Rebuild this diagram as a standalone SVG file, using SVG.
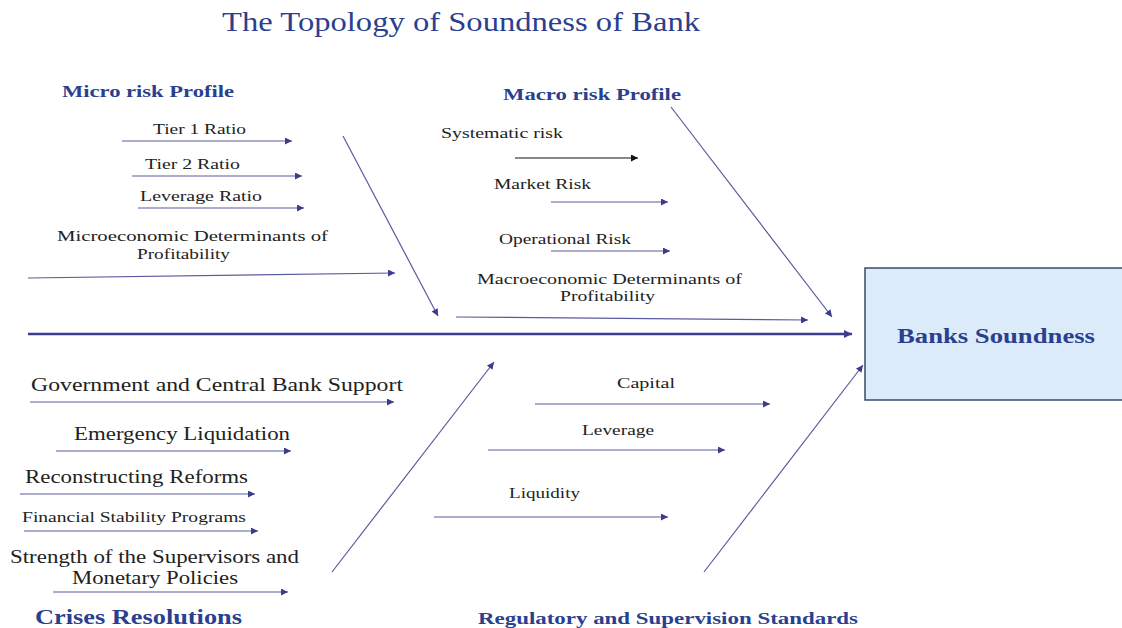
<svg xmlns="http://www.w3.org/2000/svg" width="1122" height="628" viewBox="0 0 1122 628">
<defs>
<marker id="ah" viewBox="0 0 10 10" refX="10" refY="5" markerWidth="12" markerHeight="7" markerUnits="userSpaceOnUse" orient="auto">
<path d="M0,0 L10,5 L0,10 Z" fill="#3c3c8c"/>
</marker>
<marker id="ahb" viewBox="0 0 10 10" refX="10" refY="5" markerWidth="10" markerHeight="7" markerUnits="userSpaceOnUse" orient="auto">
<path d="M0,0 L10,5 L0,10 Z" fill="#111"/>
</marker>
<marker id="ahl" viewBox="0 0 10 10" refX="10" refY="5" markerWidth="13" markerHeight="8" markerUnits="userSpaceOnUse" orient="auto">
<path d="M0,0 L10,5 L0,10 Z" fill="#3c3c8c"/>
</marker>
</defs>
<style>
text{font-family:"Liberation Serif","DejaVu Serif","Times New Roman",serif;}
.t{fill:#222;}
.h{fill:#2b3f8f;font-weight:bold;}
.a{stroke:#5a5aa0;stroke-width:1.2;fill:none;marker-end:url(#ah);}
.ab{stroke:#111;stroke-width:1.2;fill:none;marker-end:url(#ahb);}
.sp{stroke:#3c3c8c;stroke-width:2.5;fill:none;marker-end:url(#ahl);}
</style>
<rect width="1122" height="628" fill="#fff"/>
<text font-family="Liberation Serif, serif" x="222" y="31" font-size="27" textLength="478" lengthAdjust="spacingAndGlyphs" fill="#2b3f8f">The Topology of Soundness of Bank</text>

<g id="connectors">
<line class="sp" x1="28" y1="334" x2="852" y2="334"/>
<line class="a" x1="343" y1="136" x2="438" y2="316"/>
<line class="a" x1="671" y1="107" x2="832" y2="317"/>
<line class="a" x1="332" y1="572" x2="494" y2="362"/>
<line class="a" x1="704" y1="572" x2="863" y2="365"/>
<line class="a" x1="122" y1="141" x2="292" y2="141"/>
<line class="a" x1="132" y1="176" x2="302" y2="176"/>
<line class="a" x1="138" y1="208" x2="304" y2="208"/>
<line class="a" x1="28" y1="278" x2="395" y2="273"/>
<line class="ab" x1="515" y1="158" x2="638" y2="158"/>
<line class="a" x1="551" y1="202" x2="668" y2="202"/>
<line class="a" x1="551" y1="251" x2="670" y2="251"/>
<line class="a" x1="456" y1="317" x2="808" y2="320"/>
<line class="a" x1="30" y1="402" x2="394" y2="402"/>
<line class="a" x1="56" y1="451" x2="291" y2="451"/>
<line class="a" x1="20" y1="494" x2="255" y2="494"/>
<line class="a" x1="24" y1="531" x2="258" y2="531"/>
<line class="a" x1="53" y1="592" x2="288" y2="592"/>
<line class="a" x1="535" y1="404" x2="770" y2="404"/>
<line class="a" x1="488" y1="450" x2="725" y2="450"/>
<line class="a" x1="434" y1="517" x2="668" y2="517"/>
</g>

<g id="micro">
<text class="h" x="62" y="97" font-size="17" textLength="172" lengthAdjust="spacingAndGlyphs">Micro risk  Profile</text>
<text class="t" x="153" y="134" font-size="15" textLength="93" lengthAdjust="spacingAndGlyphs">Tier 1 Ratio</text>
<text class="t" x="145" y="169" font-size="15" textLength="95" lengthAdjust="spacingAndGlyphs">Tier 2 Ratio</text>
<text class="t" x="140" y="201" font-size="15" textLength="122" lengthAdjust="spacingAndGlyphs">Leverage Ratio</text>
<text class="t" x="57" y="241" font-size="15" textLength="271" lengthAdjust="spacingAndGlyphs">Microeconomic  Determinants  of</text>
<text class="t" x="137" y="259" font-size="15" textLength="93" lengthAdjust="spacingAndGlyphs">Profitability</text>
</g>

<g id="macro">
<text class="h" x="503" y="100" font-size="17" textLength="178" lengthAdjust="spacingAndGlyphs">Macro risk  Profile</text>
<text class="t" x="441" y="138" font-size="15" textLength="122" lengthAdjust="spacingAndGlyphs">Systematic  risk</text>
<text class="t" x="494" y="189" font-size="15" textLength="97" lengthAdjust="spacingAndGlyphs">Market Risk</text>
<text class="t" x="499" y="244" font-size="15" textLength="132" lengthAdjust="spacingAndGlyphs">Operational Risk</text>
<text class="t" x="477" y="284" font-size="15" textLength="265" lengthAdjust="spacingAndGlyphs">Macroeconomic  Determinants  of</text>
<text class="t" x="560" y="301" font-size="15" textLength="95" lengthAdjust="spacingAndGlyphs">Profitability</text>
</g>

<g id="banks-soundness">
<rect x="865" y="268" width="262" height="132" fill="#dcebf9" stroke="#3b4a6b" stroke-width="1.5"/>
<text class="h" x="897" y="343" font-size="20" textLength="198" lengthAdjust="spacingAndGlyphs">Banks Soundness</text>
</g>

<g id="crises">
<text class="t" x="31" y="391" font-size="18" textLength="372" lengthAdjust="spacingAndGlyphs">Government  and Central Bank  Support</text>
<text class="t" x="74" y="440" font-size="18" textLength="216" lengthAdjust="spacingAndGlyphs">Emergency  Liquidation</text>
<text class="t" x="25" y="483" font-size="18" textLength="223" lengthAdjust="spacingAndGlyphs">Reconstructing  Reforms</text>
<text class="t" x="22" y="522" font-size="15" textLength="224" lengthAdjust="spacingAndGlyphs">Financial Stability Programs</text>
<text class="t" x="10" y="563" font-size="18" textLength="289" lengthAdjust="spacingAndGlyphs">Strength of the Supervisors and</text>
<text class="t" x="72" y="584" font-size="18" textLength="166" lengthAdjust="spacingAndGlyphs">Monetary  Policies</text>
<text class="h" x="35" y="624" font-size="20" textLength="207" lengthAdjust="spacingAndGlyphs">Crises Resolutions</text>
</g>

<g id="regulatory">
<text class="t" x="617" y="388" font-size="15" textLength="58" lengthAdjust="spacingAndGlyphs">Capital</text>
<text class="t" x="582" y="435" font-size="15" textLength="72" lengthAdjust="spacingAndGlyphs">Leverage</text>
<text class="t" x="509" y="498" font-size="15" textLength="71" lengthAdjust="spacingAndGlyphs">Liquidity</text>
<text class="h" x="478" y="624" font-size="17" textLength="380" lengthAdjust="spacingAndGlyphs">Regulatory and Supervision  Standards</text>
</g>
</svg>
